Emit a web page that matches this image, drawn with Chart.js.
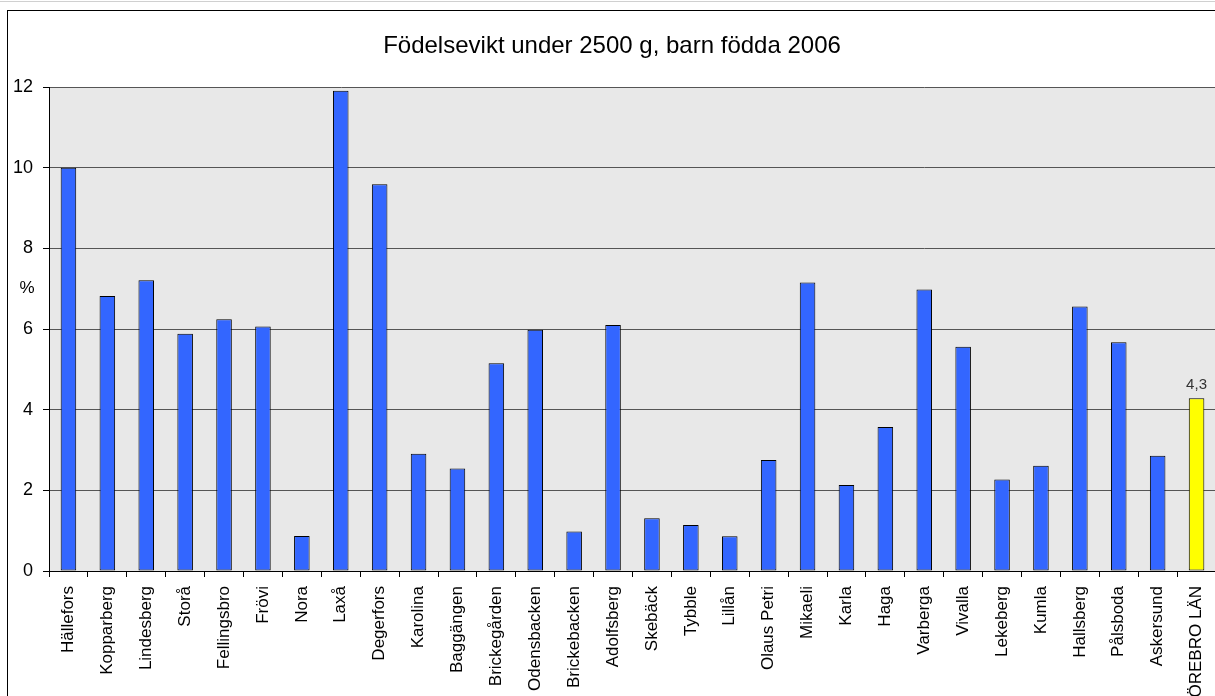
<!DOCTYPE html>
<html>
<head>
<meta charset="utf-8">
<script src="https://cdn.jsdelivr.net/npm/chart.js@4.4.1/dist/chart.umd.min.js"></script>
<style>
  html, body { margin: 0; padding: 0; background: #fff; overflow: hidden; }
  #wrap { position: absolute; left: 0; top: 0; width: 1240px; height: 720px; }
</style>
</head>
<body>
<div id="wrap"><canvas id="c" width="1240" height="720"></canvas></div>
<script>
const categories = ['Hällefors','Kopparberg','Lindesberg','Storå','Fellingsbro','Frövi','Nora','Laxå','Degerfors','Karolina','Baggängen','Brickegården','Odensbacken','Brickebacken','Adolfsberg','Skebäck','Tybble','Lillån','Olaus Petri','Mikaeli','Karla','Haga','Varberga','Vivalla','Lekeberg','Kumla','Hallsberg','Pålsboda','Askersund','ÖREBRO LÄN'];
const values = [10.0, 6.82, 7.21, 5.88, 6.24, 6.06, 0.87, 11.91, 9.59, 2.91, 2.54, 5.15, 5.98, 0.98, 6.10, 1.31, 1.14, 0.86, 2.75, 7.15, 2.13, 3.57, 6.98, 5.56, 2.27, 2.61, 6.56, 5.67, 2.86, 4.28];
const highlighted = ['ÖREBRO LÄN'];
const yTicks = [0, 2, 4, 6, 8, 10, 12];
const titleText = 'Födelsevikt under 2500 g, barn födda 2006';
const yUnit = '%';

const FONT = "'Liberation Sans', Arial, sans-serif";
const BLUE = '#3366FF';
const YELLOW = '#FFFF00';

const decor = {
  id: 'decor',
  beforeDraw(chart) {
    const ctx = chart.ctx, a = chart.chartArea;
    ctx.save();
    ctx.fillStyle = '#fff';
    ctx.fillRect(0, 0, chart.width, chart.height);
    ctx.strokeStyle = '#d0d0d0';
    ctx.lineWidth = 1;
    ctx.beginPath(); ctx.moveTo(0, 1.5); ctx.lineTo(chart.width, 1.5); ctx.stroke();
    ctx.strokeStyle = '#000';
    ctx.strokeRect(7.5, 10.5, 1400, 900);
    ctx.fillStyle = '#E8E8E8';
    ctx.fillRect(a.left, a.top, a.right - a.left, a.bottom - a.top);
    ctx.fillStyle = '#000';
    ctx.font = '24px ' + FONT;
    ctx.textAlign = 'center';
    ctx.textBaseline = 'alphabetic';
    ctx.fillText(titleText, 612, 53);
    ctx.font = '17px ' + FONT;
    ctx.textBaseline = 'middle';
    ctx.fillText(yUnit, 27, 288);
    ctx.restore();
  },
  afterDatasetsDraw(chart) {
    const ctx = chart.ctx;
    const meta = chart.getDatasetMeta(0);
    ctx.save();
    ctx.fillStyle = '#333';
    ctx.font = "15px 'Liberation Sans Narrow', 'Arial Narrow', " + FONT;
    ctx.textAlign = 'center';
    ctx.textBaseline = 'alphabetic';
    categories.forEach((c, i) => {
      if (highlighted.includes(c)) {
        const el = meta.data[i];
        ctx.fillText(values[i].toFixed(1).replace('.', ','), el.x, el.y - 9);
      }
    });
    ctx.restore();
  }
};

new Chart(document.getElementById('c'), {
  type: 'bar',
  data: {
    labels: categories,
    datasets: [{
      data: values,
      backgroundColor: categories.map(c => highlighted.includes(c) ? YELLOW : BLUE),
      borderColor: '#000',
      borderWidth: 1,
      borderSkipped: false,
      barPercentage: 0.4,
      categoryPercentage: 1.0
    }]
  },
  options: {
    responsive: false,
    animation: false,
    devicePixelRatio: 1,
    layout: { padding: { left: 0, top: 87, right: 24, bottom: 0 } },
    plugins: { legend: { display: false }, title: { display: false }, tooltip: { enabled: false } },
    scales: {
      x: {
        offset: true,
        grid: { display: true, offset: true, drawOnChartArea: false, drawTicks: true, tickLength: 6, tickColor: '#000', tickWidth: 1 },
        border: { display: true, color: '#000', width: 1 },
        ticks: { color: '#000', font: { family: FONT, size: 17 }, minRotation: 90, maxRotation: 90, padding: 9, autoSkip: false },
        afterFit(scale) { scale.height = 720 - 571; }
      },
      y: {
        min: 0, max: 12,
        afterBuildTicks(scale) { scale.ticks = yTicks.map(v => ({ value: v })); },
        grid: { color: '#555', lineWidth: 1, drawTicks: true, tickLength: 6, tickColor: '#000' },
        border: { display: true, color: '#000', width: 1 },
        ticks: { color: '#000', font: { family: FONT, size: 18 }, padding: 10 },
        afterFit(scale) { scale.width = 49; }
      }
    }
  },
  plugins: [decor]
});
</script>
</body>
</html>
